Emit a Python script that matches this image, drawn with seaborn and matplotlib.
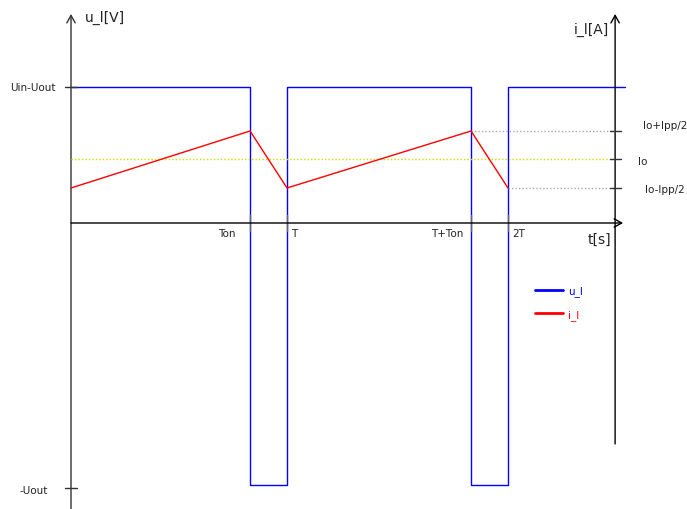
import matplotlib
matplotlib.use("Agg")
import matplotlib.pyplot as plt
import seaborn as sns
import pandas as pd
from matplotlib.lines import Line2D

# --- waveform data (time in units of the first period T = 1) ---
T_ON = 0.829       # Ton
T_PER = 1.0        # T
T_TON2 = 1.852     # T+Ton
T_PER2 = 2.023     # 2T
T_END = 2.565
U_HIGH = 1.0       # Uin-Uout
U_LOW = -1.93      # -Uout
I_LO = 0.547       # Io-Ipp/2
I_MID = 1.0        # Io
I_HI = 1.4375      # Io+Ipp/2

u_time = [0.0, T_ON, T_PER, T_TON2, T_PER2, T_END]
u_values = [U_HIGH, U_LOW, U_HIGH, U_LOW, U_HIGH, U_HIGH]
i_time = [0.0, T_ON, T_PER, T_TON2, T_PER2]
i_values = [I_LO, I_HI, I_LO, I_HI, I_LO]

time_ticks = [T_ON, T_PER, T_TON2, T_PER2]
time_labels = ["Ton", "T", "T+Ton", "2T"]

df_u = pd.DataFrame({"t": u_time, "u": u_values})
df_i = pd.DataFrame({"t": i_time, "i": i_values})

sns.set_theme(style="white")
plt.rcParams['font.family'] = ['DejaVu Sans']

fig = plt.figure(figsize=(6.87, 5.10), dpi=100)
ax = fig.add_axes([0, 0, 1, 1])
ax2 = ax.twinx()

ax.set_xlim(-71 / 216, 616 / 216)
ax.set_ylim(-286 / 136, 224 / 136)
ax2.set_ylim(-286 / 64, 224 / 64)
for a in (ax, ax2):
    a.axis("off")

X_RIGHT = 2.519
arrow = dict(arrowstyle="->,head_length=0.45,head_width=0.25", color="#333333", lw=1.0,
             shrinkA=0, shrinkB=0)

# axes with arrows
ax.annotate("", xy=(0, 1.537), xytext=(0, -2.103), arrowprops=arrow)
ax.annotate("", xy=(2.556, 0), xytext=(0, 0), arrowprops=dict(arrow, color="black"))
ax.annotate("", xy=(X_RIGHT, 1.537), xytext=(X_RIGHT, -1.625), arrowprops=dict(arrow, color="black"))

# reference lines for current
ax2.plot([0, X_RIGHT], [I_MID, I_MID], color="#c8e000", lw=1.0, ls=(0, (1, 1.5)))
ax2.plot([T_TON2, X_RIGHT], [I_HI, I_HI], color="#aaaaaa", lw=1.0, ls=(0, (1, 1.5)))
ax2.plot([T_PER2, X_RIGHT], [I_LO, I_LO], color="#aaaaaa", lw=1.0, ls=(0, (1, 1.5)))

# waveforms
sns.lineplot(data=df_u, x="t", y="u", ax=ax, color="#0000ff", lw=1.0,
             drawstyle="steps-post", estimator=None, sort=False, legend=False)
sns.lineplot(data=df_i, x="t", y="i", ax=ax2, color="red", lw=1.0,
             estimator=None, sort=False, legend=False)

# tick marks
for v in (U_HIGH, U_LOW - 0.02):
    ax.plot([-0.03, 0.03], [v, v], color="#333333", lw=1.0)
for t in time_ticks:
    ax.plot([t, t], [0.059, -0.059], color="#666666", lw=1.0)
for c in (I_LO, I_MID, I_HI):
    ax2.plot([X_RIGHT - 0.024, X_RIGHT + 0.027], [c, c], color="#333333", lw=1.0)

fs = 7.5
ax.text(0.065, 1.515, "u_l[V]", fontsize=10, va="center", ha="left", color="#222222")
ax.text(2.329, 1.426, "i_l[A]", fontsize=10, va="center", ha="left", color="#222222")
ax.text(2.394, -0.118, "t[s]", fontsize=10, va="center", ha="left", color="#222222")
ax.text(-0.069, U_HIGH, "Uin-Uout", fontsize=fs, va="center", ha="right", color="#222222")
ax.text(-0.106, U_LOW - 0.03, "-Uout", fontsize=fs, va="center", ha="right", color="#222222")

label_pos = [(0.764, "right"), (1.0185, "left"), (1.815, "right"), (2.042, "left")]
for (x, ha), lab in zip(label_pos, time_labels):
    ax.text(x, -0.074, lab, fontsize=fs, va="center", ha=ha, color="#222222")

ax2.text(2.648, 1.53, "Io+Ipp/2", fontsize=fs, va="center", ha="left", color="#222222")
ax2.text(2.625, 0.97, "Io", fontsize=fs, va="center", ha="left", color="#222222")
ax2.text(2.657, 0.53, "Io-Ipp/2", fontsize=fs, va="center", ha="left", color="#222222")

# legend
handles = [Line2D([], [], color="#0000ff", lw=2.0, label="u_l"),
           Line2D([], [], color="red", lw=2.0, label="i_l")]
ax2.legend(handles=handles, loc="upper left", bbox_to_anchor=(535 / 687, 1 - 286.5 / 510),
           bbox_transform=fig.transFigure, frameon=False, fontsize=fs, handlelength=2.7,
           handletextpad=0.5, labelspacing=1.2, borderpad=0, borderaxespad=0,
           labelcolor="linecolor")

fig.savefig("out.png", dpi=100)
